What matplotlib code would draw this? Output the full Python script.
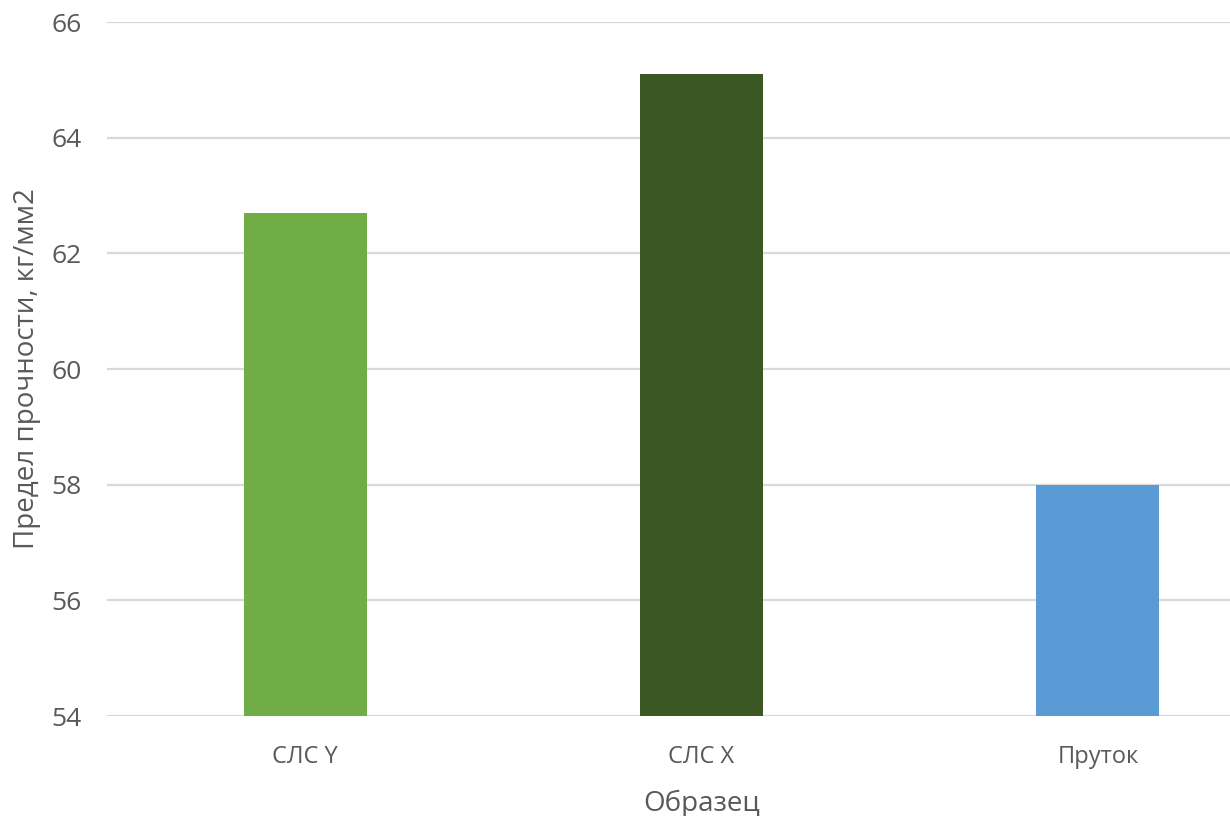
import matplotlib
matplotlib.use("Agg")
import matplotlib.pyplot as plt

categories = ["СЛС Y", "СЛС X", "Пруток"]
values = [62.7, 65.1, 58.0]
colors = ["#70AD47", "#3A5724", "#5B9BD5"]
y_ticks = [54, 56, 58, 60, 62, 64, 66]

plt.rcParams['font.family'] = ['Open Sans', 'DejaVu Sans']
text_color = "#595959"

fig = plt.figure(figsize=(12.3, 8.16), dpi=100)
# axes extends slightly past the right edge of the canvas
ax = fig.add_axes([0.087, 0.1225, 0.9667, 0.8505])

x = range(len(categories))
ax.bar(x, values, width=0.31, color=colors, zorder=3, bottom=0)
ax.set_xlim(-0.5, 2.5)
ax.set_ylim(54, 66)
ax.set_yticks(y_ticks)
ax.set_xticks(list(x))
ax.set_xticklabels(categories)

ax.grid(axis='y', color="#D9D9D9", linewidth=1.6, zorder=0)
for s in ax.spines.values():
    s.set_visible(False)
ax.tick_params(axis='both', length=0)
ax.tick_params(axis='y', labelsize=19, pad=18, colors=text_color)
ax.tick_params(axis='x', labelsize=17, pad=21, colors=text_color)

ax.set_xlabel("Образец", fontsize=20, color=text_color, labelpad=15)
ax.set_ylabel("Предел прочности, кг/мм2", fontsize=20, color=text_color, labelpad=8)

fig.savefig("out.png", dpi=100)
